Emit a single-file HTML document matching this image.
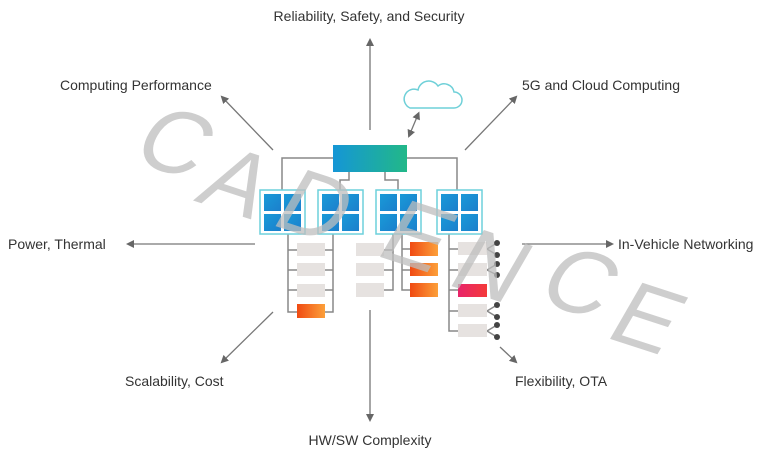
<!DOCTYPE html>
<html><head><meta charset="utf-8"><style>
html,body{margin:0;padding:0;background:#fff;}
svg{display:block;font-family:"Liberation Sans",sans-serif;}
</style></head><body>
<svg width="768" height="461" viewBox="0 0 768 461" xmlns="http://www.w3.org/2000/svg">
<defs>
<linearGradient id="tg" x1="0" x2="1"><stop offset="0" stop-color="#1596d6"/><stop offset="1" stop-color="#22b888"/></linearGradient>
<linearGradient id="bl" x1="0" y1="0" x2="1" y2="1"><stop offset="0" stop-color="#1a9ad8"/><stop offset="1" stop-color="#1b7fcc"/></linearGradient>
<linearGradient id="og" x1="0" x2="1"><stop offset="0" stop-color="#f04a12"/><stop offset="1" stop-color="#fca03a"/></linearGradient>
<linearGradient id="rg" x1="0" x2="1"><stop offset="0" stop-color="#e8246a"/><stop offset="1" stop-color="#f43a3a"/></linearGradient>
<marker id="ah" markerWidth="8" markerHeight="8" refX="6" refY="4" orient="auto" markerUnits="userSpaceOnUse"><path d="M0,0 L8,4 L0,8 z" fill="#666"/></marker>
<marker id="ah2" markerWidth="8" markerHeight="8" refX="2" refY="4" orient="auto-start-reverse" markerUnits="userSpaceOnUse"><path d="M0,0 L8,4 L0,8 z" fill="#666"/></marker>
</defs>
<g stroke="#777" stroke-width="1.3" fill="none">
<line x1="370" y1="130" x2="370" y2="40" marker-end="url(#ah)"/>
<line x1="273" y1="150" x2="222" y2="97" marker-end="url(#ah)"/>
<line x1="465" y1="150" x2="516" y2="97" marker-end="url(#ah)"/>
<line x1="255" y1="244" x2="128" y2="244" marker-end="url(#ah)"/>
<line x1="522" y1="244" x2="612" y2="244" marker-end="url(#ah)"/>
<line x1="273" y1="312" x2="222" y2="362" marker-end="url(#ah)"/>
<line x1="500" y1="347" x2="516" y2="362" marker-end="url(#ah)"/>
<line x1="370" y1="310" x2="370" y2="420" marker-end="url(#ah)"/>
<line x1="417" y1="117" x2="409" y2="136" marker-start="url(#ah2)" marker-end="url(#ah)"/>
</g>
<path d="M410,108 h44 a8,8 0 0 0 0,-16 a10,10 0 0 0 -16,-6 a11,11 0 0 0 -20,4 a9,9 0 0 0 -8,18 z" fill="none" stroke="#6fd0d8" stroke-width="1.5"/>
<g stroke="#888" stroke-width="1.5" fill="none">
<path d="M333,158 H282 V190"/><path d="M407,158 H457 V190"/>
<path d="M349,172 V180 H340 V190"/><path d="M385,172 V180 H398 V190"/>
<path d="M288,234 V312 H297"/><path d="M288,250 H297 M288,270 H297 M288,290 H297"/>
<path d="M333,234 V312 H325 M325,250 H333 M325,270 H333 M325,290 H333"/>
<path d="M393,234 V290 H384 M384,250 H393 M384,270 H393"/>
<path d="M402,234 V290 H410 M402,249 H410 M402,270 H410"/>
<path d="M449,234 V331 H458 M449,249 H458 M449,270 H458 M449,290 H458 M449,311 H458"/>
<path d="M487,249 L497,243 M487,249 L497,255 M487,270 L497,264 M487,270 L497,275 M487,311 L497,305 M487,311 L497,317 M487,331 L497,325 M487,331 L497,337"/>
</g>
<g fill="#444"><circle cx="497" cy="243" r="3"/><circle cx="497" cy="255" r="3"/><circle cx="497" cy="264" r="3"/><circle cx="497" cy="275" r="3"/><circle cx="497" cy="305" r="3"/><circle cx="497" cy="317" r="3"/><circle cx="497" cy="325" r="3"/><circle cx="497" cy="337" r="3"/></g>
<rect x="333" y="145" width="74" height="27" fill="url(#tg)"/>
<g id="m">
<rect x="260" y="190" width="45" height="44" fill="#fff" stroke="#6dd0dc" stroke-width="1.5"/>
<rect x="264" y="194" width="17" height="17" fill="url(#bl)"/><rect x="284" y="194" width="17" height="17" fill="url(#bl)"/>
<rect x="264" y="214" width="17" height="17" fill="url(#bl)"/><rect x="284" y="214" width="17" height="17" fill="url(#bl)"/>
</g>
<use href="#m" x="58"/><use href="#m" x="116"/><use href="#m" x="177"/>
<g fill="#e6e2e0">
<rect x="297" y="243" width="28" height="13"/><rect x="297" y="263" width="28" height="13"/><rect x="297" y="284" width="28" height="13"/>
<rect x="356" y="243" width="28" height="13"/><rect x="356" y="263" width="28" height="13"/><rect x="356" y="283" width="28" height="14"/>
<rect x="458" y="242" width="29" height="13"/><rect x="458" y="263" width="29" height="13"/><rect x="458" y="304" width="29" height="13"/><rect x="458" y="324" width="29" height="13"/>
</g>
<rect x="297" y="304" width="28" height="14" fill="url(#og)"/>
<rect x="410" y="242" width="28" height="14" fill="url(#og)"/><rect x="410" y="263" width="28" height="13" fill="url(#og)"/><rect x="410" y="283" width="28" height="14" fill="url(#og)"/>
<rect x="458" y="284" width="29" height="13" fill="url(#rg)"/>
<g font-size="14" fill="#333">
<text x="369" y="21" text-anchor="middle">Reliability, Safety, and Security</text>
<text x="60" y="90">Computing Performance</text>
<text x="522" y="90">5G and Cloud Computing</text>
<text x="8" y="249">Power, Thermal</text>
<text x="618" y="249">In-Vehicle Networking</text>
<text x="125" y="386">Scalability, Cost</text>
<text x="515" y="386">Flexibility, OTA</text>
<text x="370" y="445" text-anchor="middle">HW/SW Complexity</text>
</g>
<g font-size="92" fill="#bdbdbd" fill-opacity="0.75" text-anchor="middle">
<text transform="translate(160,170) rotate(18) skewX(-12)">C</text>
<text transform="translate(222,210) rotate(18) skewX(-12)">A</text>
<text transform="translate(300,234) rotate(18) skewX(-12)">D</text>
<text transform="translate(402,264) rotate(18) skewX(-12)">E</text>
<text transform="translate(476,294) rotate(18) skewX(-12)">N</text>
<text transform="translate(565,310) rotate(18) skewX(-12)">C</text>
<text transform="translate(632,346) rotate(18) skewX(-12)">E</text>
</g>
</svg>
</body></html>
